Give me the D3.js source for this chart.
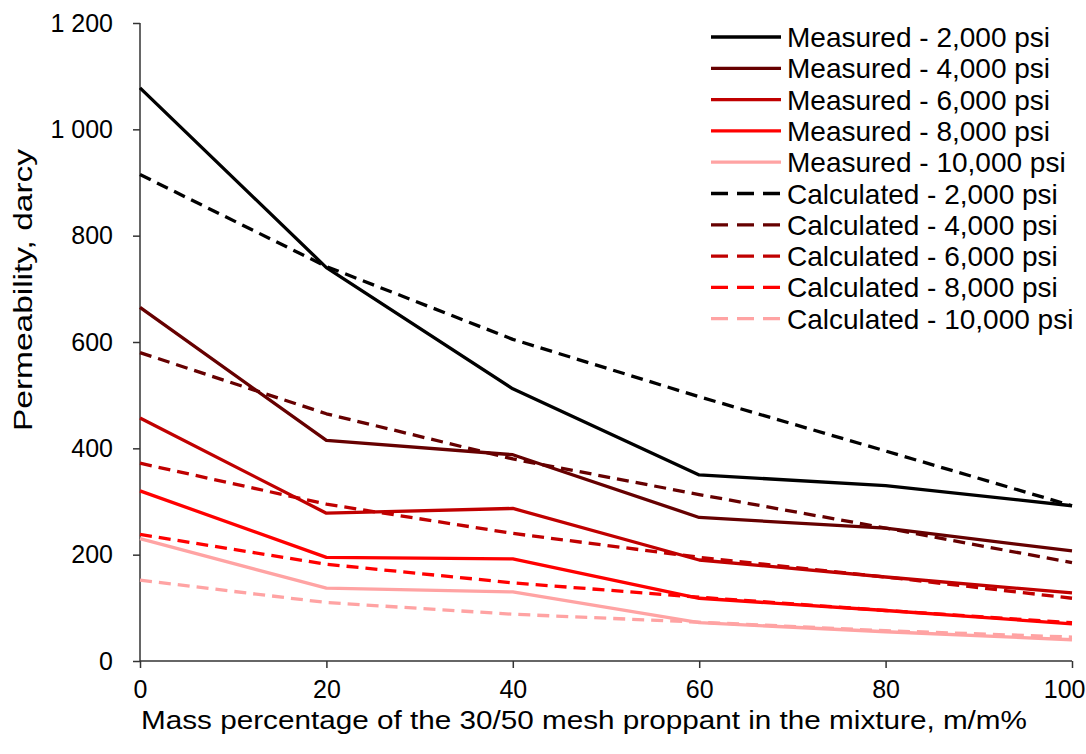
<!DOCTYPE html>
<html>
<head>
<meta charset="utf-8">
<script src="https://cdn.jsdelivr.net/npm/d3@7"></script>
<style>
  html, body { margin: 0; padding: 0; background: #fff; }
  svg { display: block; font-family: "Liberation Sans", Arial, sans-serif; }
</style>
</head>
<body>
<svg id="chart" width="1086" height="754"></svg>
<script>
// x values: mass % of 30/50 mesh proppant
const massPct = [0, 20, 40, 60, 80, 100];

// measured permeability (darcy)
const meas2000  = [1078, 740, 512, 350, 330, 292];
const meas4000  = [665, 415, 388, 270, 250, 207];
const meas6000  = [457, 278, 287, 190, 158, 128];
const meas8000  = [320, 195, 192, 118, 95, 70];
const meas10000 = [230, 137, 130, 72, 55, 40];

// calculated permeability (darcy)
const calc2000  = [915, 742, 605, 497, 395, 292];
const calc4000  = [580, 465, 380, 313, 250, 185];
const calc6000  = [372, 295, 240, 195, 158, 118];
const calc8000  = [238, 182, 147, 120, 95, 72];
const calc10000 = [152, 110, 88, 73, 57, 45];

const xTicks = [0, 20, 40, 60, 80, 100];
const yTicks = [0, 200, 400, 600, 800, 1000, 1200];

const series = [
  { name: "Measured - 2,000 psi",    values: meas2000,  color: "#000000", dashed: false },
  { name: "Measured - 4,000 psi",    values: meas4000,  color: "#660000", dashed: false },
  { name: "Measured - 6,000 psi",    values: meas6000,  color: "#c00000", dashed: false },
  { name: "Measured - 8,000 psi",    values: meas8000,  color: "#ff0000", dashed: false },
  { name: "Measured - 10,000 psi",   values: meas10000, color: "#ffa3a3", dashed: false },
  { name: "Calculated - 2,000 psi",  values: calc2000,  color: "#000000", dashed: true },
  { name: "Calculated - 4,000 psi",  values: calc4000,  color: "#660000", dashed: true },
  { name: "Calculated - 6,000 psi",  values: calc6000,  color: "#c00000", dashed: true },
  { name: "Calculated - 8,000 psi",  values: calc8000,  color: "#ff0000", dashed: true },
  { name: "Calculated - 10,000 psi", values: calc10000, color: "#ffa3a3", dashed: true }
];

const svg = d3.select("#chart");
const plot = { left: 140, right: 1072, top: 23, bottom: 661 };

const x = d3.scaleLinear().domain([0, 100]).range([plot.left, plot.right]);
const y = d3.scaleLinear().domain([0, 1200]).range([plot.bottom, plot.top]);

const fmtY = d => d >= 1000 ? d3.format(",")(d).replace(",", " ") : String(d);

// axes
const xAxis = svg.append("g")
  .attr("transform", `translate(0,${plot.bottom})`)
  .call(d3.axisBottom(x).tickValues(xTicks).tickSize(7).tickPadding(12).tickFormat(d3.format("d")));
const yAxis = svg.append("g")
  .attr("transform", `translate(${plot.left},0)`)
  .call(d3.axisLeft(y).tickValues(yTicks).tickSize(7).tickPadding(20).tickFormat(fmtY));

[xAxis, yAxis].forEach(a => {
  a.select(".domain").attr("stroke", "#333").attr("stroke-width", 1.5);
  a.selectAll(".tick line").attr("stroke", "#333").attr("stroke-width", 1.5);
  a.selectAll(".tick text").attr("fill", "#000").style("font-size", "25px");
});
// last x label sits at the page edge, keep it inside
xAxis.selectAll(".tick text").filter(d => d === 100)
  .attr("text-anchor", "end").attr("x", 13);
// remove the outer tick ends on domains
xAxis.select(".domain").attr("d", `M${plot.left},0H${plot.right}`);
yAxis.select(".domain").attr("d", `M0,${plot.bottom}V${plot.top}`);

// axis titles
svg.append("text")
  .attr("x", 584)
  .attr("y", 729)
  .attr("text-anchor", "middle")
  .attr("textLength", 886)
  .attr("lengthAdjust", "spacingAndGlyphs")
  .style("font-size", "26px")
  .text("Mass percentage of the 30/50 mesh proppant in the mixture, m/m%");

svg.append("text")
  .attr("transform", "translate(32,290) rotate(-90)")
  .attr("text-anchor", "middle")
  .attr("textLength", 282)
  .attr("lengthAdjust", "spacingAndGlyphs")
  .style("font-size", "26px")
  .text("Permeability, darcy");

// lines - draw calculated first, measured on top
const line = d3.line()
  .x((d, i) => x(massPct[i]))
  .y(d => y(d));

const order = series.slice(5).concat(series.slice(0, 5)).reverse();
svg.append("g").selectAll("path")
  .data(order)
  .join("path")
  .attr("d", d => line(d.values))
  .attr("fill", "none")
  .attr("stroke", d => d.color)
  .attr("stroke-width", 3.3)
  .attr("stroke-linejoin", "round")
  .attr("stroke-dasharray", d => d.dashed ? "12,7" : null);

// legend
const legend = svg.append("g").attr("transform", "translate(711,37)");
const rows = legend.selectAll("g")
  .data(series)
  .join("g")
  .attr("transform", (d, i) => `translate(0,${i * 31.3})`);
rows.append("line")
  .attr("x1", 0).attr("x2", 70)
  .attr("stroke", d => d.color)
  .attr("stroke-width", 3.3)
  .attr("stroke-dasharray", d => d.dashed ? "17,9" : null);
rows.append("text")
  .attr("x", 76)
  .attr("dy", "0.36em")
  .style("font-size", "28px")
  .text(d => d.name);
</script>
</body>
</html>
